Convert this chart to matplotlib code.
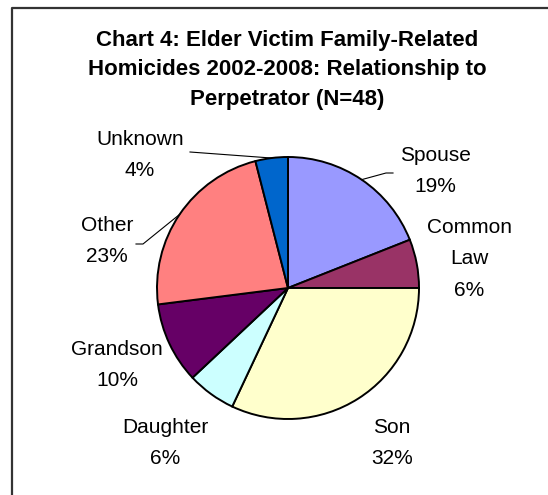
import numpy as np
import matplotlib
matplotlib.use("Agg")
import matplotlib.pyplot as plt
from matplotlib.lines import Line2D

plt.rcParams['font.family'] = ['Liberation Sans', 'DejaVu Sans']

# data
relationships = ['Spouse', 'Common\nLaw', 'Son', 'Daughter', 'Grandson', 'Other', 'Unknown']
percents = [19, 6, 32, 6, 10, 23, 4]
colors = ['#9999FF', '#993366', '#FFFFCC', '#CCFFFF', '#660066', '#FF8080', '#0066CC']

W, H = 548, 495
# label block centres in picture pixels (x, y from top)
label_pos = [(435, 171), (469, 259), (392, 443), (165, 443), (117, 365), (107, 241), (140, 155)]
# leader lines: start point (and elbow) in picture pixels, None = no line
leaders = [[(393, 173), (386, 173)], None, None, None, None,
           [(136, 244), (143, 244)], [(190, 152)]]

cx, cy, r = 288, 288, 131

fig = plt.figure(figsize=(W / 100, H / 100), dpi=100)
ax = fig.add_axes([0, 0, 1, 1])

wedges, _ = ax.pie(percents, colors=colors, startangle=90, counterclock=False,
                   center=(cx, H - cy), radius=r,
                   wedgeprops=dict(edgecolor='black', linewidth=1.4))
ax.set_xlim(0, W)
ax.set_ylim(0, H)
ax.set_aspect('equal')
ax.axis('off')

for name, p, (lx, ly), w, ld in zip(relationships, percents, label_pos, wedges, leaders):
    ax.text(lx, H - ly, f'{name}\n{p}%', ha='center', va='center',
            fontsize=15, linespacing=1.85)
    if ld is not None:
        mid = np.deg2rad((w.theta1 + w.theta2) / 2)
        ex = cx + r * np.cos(mid)
        ey = (H - cy) + r * np.sin(mid)
        xs = [q[0] for q in ld] + [ex]
        ys = [H - q[1] for q in ld] + [ey]
        ax.plot(xs, ys, color='black', lw=0.8)

ax.text(287, H - 70, 'Chart 4: Elder Victim Family-Related\n'
        'Homicides 2002-2008: Relationship to\nPerpetrator (N=48)',
        ha='center', va='center', fontsize=16, fontweight='bold', linespacing=1.55)

# chart border (only top and left visible)
fig.add_artist(Line2D([11.5 / W, 11.5 / W, 1], [0, 1 - 7.5 / H, 1 - 7.5 / H],
                      color='#333333', lw=1.6, transform=fig.transFigure))

fig.savefig('out.png', dpi=100)
